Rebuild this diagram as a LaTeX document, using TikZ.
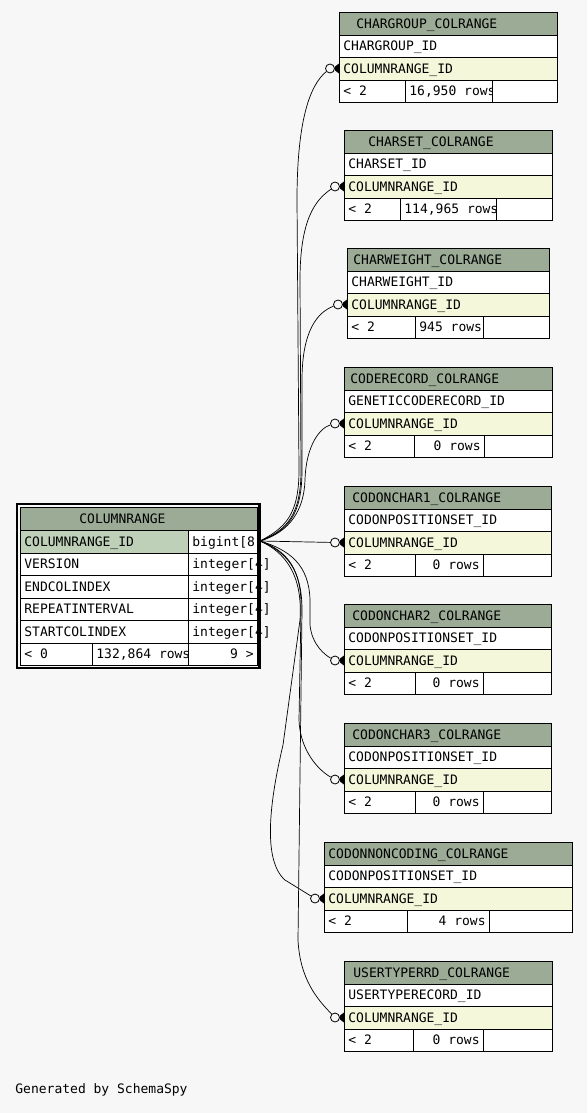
\documentclass[tikz,border=0pt]{standalone}
\usepackage{fontspec}
\setmainfont{DejaVu Sans Mono}
\newcommand{\erfont}{\fontsize{13}{15}\selectfont}
\definecolor{bgc}{HTML}{F7F7F7}
\definecolor{hdc}{HTML}{9BAB96}
\definecolor{pkc}{HTML}{BED1B8}
\definecolor{fkc}{HTML}{F4F7DA}
\begin{document}
\begin{tikzpicture}[x=1pt, y=-1pt, line width=0.8pt,
  txt/.style={font=\erfont, anchor=west, inner sep=0pt, text height=9.5pt, text depth=0pt},
  odot/.style={circle, draw, fill=bgc, inner sep=0pt, minimum size=9pt},
  rel/.style={line width=0.7pt}]
  \fill[bgc] (0,0) rectangle (587,1113);
  % referencing tables
  \foreach \i/\tn/\xa/\xb/\yt/\sa/\sb/\hx/\ca/\rw/\rx/\ra in {
    1/CHARGROUP\_COLRANGE/339/557/12/405/492/356/CHARGROUP\_ID/{16,950 rows}/409/west,
    2/CHARSET\_COLRANGE/344/552/130/400/496/368/CHARSET\_ID/{114,965 rows}/404/west,
    3/CHARWEIGHT\_COLRANGE/347/549/248/415/483/353/CHARWEIGHT\_ID/945 rows/419/west,
    4/CODERECORD\_COLRANGE/344/552/367/414/484/350/GENETICCODERECORD\_ID/0 rows/481/east,
    5/CODONCHAR1\_COLRANGE/344/551/486/415/483/352/CODONPOSITIONSET\_ID/0 rows/480/east,
    6/CODONCHAR2\_COLRANGE/344/551/604/415/483/352/CODONPOSITIONSET\_ID/0 rows/480/east,
    7/CODONCHAR3\_COLRANGE/344/551/723/415/483/352/CODONPOSITIONSET\_ID/0 rows/480/east,
    8/CODONNONCODING\_COLRANGE/324/572/842/407/489/328/CODONPOSITIONSET\_ID/4 rows/486/east,
    9/USERTYPERRD\_COLRANGE/344/552/961/413/483/353/USERTYPERECORD\_ID/0 rows/480/east} {
    \fill[hdc] (\xa,\yt) rectangle (\xb,\yt+23);
    \fill[white] (\xa,\yt+23) rectangle (\xb,\yt+45);
    \fill[fkc] (\xa,\yt+45) rectangle (\xb,\yt+68);
    \fill[white] (\xa,\yt+68) rectangle (\xb,\yt+90);
    \draw (\xa,\yt) rectangle (\xb,\yt+90);
    \foreach \d in {23,45,68} \draw (\xa,\yt+\d) -- (\xb,\yt+\d);
    \draw (\sa,\yt+68) -- (\sa,\yt+90) (\sb,\yt+68) -- (\sb,\yt+90);
    \node[txt] (t\i-h) at (\hx,\yt+11.5) {\tn};
    \node[txt] (t\i-a) at (\xa+4,\yt+34) {\ca};
    \node[txt] (t\i-b) at (\xa+4,\yt+56.5) {COLUMNRANGE\_ID};
    \node[txt] (t\i-f) at (\xa+4,\yt+79) {< 2};
    \begin{scope}
      \clip (\sa,\yt+68) rectangle (\sb,\yt+90);
      \node[txt, anchor=\ra] (t\i-r) at (\rx,\yt+79) {\rw};
    \end{scope}
    \coordinate (t\i-in) at (\xa,\yt+56.5);
    \node[odot] (o\i) at (\xa-9,\yt+56.5) {};
    \draw[rel] (o\i) -- (t\i-in);
    \fill (\xa-4,\yt+54.5) -- (\xa,\yt+51.5) -- (\xa,\yt+61.5) -- (\xa-4,\yt+58.5) -- cycle;
  }
  % COLUMNRANGE
  \fill[white] (20,507) rectangle (257,665);
  \fill[hdc] (20,507) rectangle (257,530);
  \fill[pkc] (20,530) rectangle (188,553);
  \foreach \y in {530,553,575,598,620,643} \draw (20,\y) -- (257,\y);
  \draw (188,530) -- (188,665) (92,643) -- (92,665);
  \draw (20,507) rectangle (257,665);
  \node[txt] (cr-h) at (79,518.5) {COLUMNRANGE};
  \foreach \j/\cn/\ct/\y in {1/COLUMNRANGE\_ID/{bigint[8}/541.5, 2/VERSION/{integer[4]}/564,
      3/ENDCOLINDEX/{integer[4]}/586.5, 4/REPEATINTERVAL/{integer[4]}/609, 5/STARTCOLINDEX/{integer[4]}/631.5} {
    \node[txt] (cr-c\j) at (24,\y) {\cn};
    \node[txt] (cr-t\j) at (192,\y) {\ct};
  }
  \node[txt] (cr-f1) at (24,654) {< 0};
  \begin{scope}
    \clip (92,643) rectangle (188,665);
    \node[txt] (cr-f2) at (96,654) {132,864 rows};
  \end{scope}
  \node[txt, anchor=east] (cr-f3) at (254,654) {9 >};
  \draw[line width=2.5pt] (17,504) rectangle (259.5,668);
  \coordinate (pk) at (260,541);
  % relationships
  \draw[rel] (pk) .. controls (285,528) and (299,515) .. (299,470) -- (297,200)
    .. controls (297,120) and (310,85) .. (o1);
  \draw[rel] (pk) .. controls (287,530) and (301,515) .. (301,470) -- (300,280)
    .. controls (300,220) and (315,200) .. (o2);
  \draw[rel] (pk) .. controls (288,531) and (302,515) .. (302,470) -- (302,380)
    .. controls (302,330) and (318,312) .. (o3);
  \draw[rel] (pk) .. controls (290,532) and (304,510) .. (305,480)
    .. controls (306,445) and (320,428) .. (o4);
  \draw[rel] (pk) -- (o5);
  \draw[rel] (pk) .. controls (290,550) and (309,565) .. (310,600) -- (310,625)
    .. controls (312,645) and (325,655) .. (o6);
  \draw[rel] (pk) .. controls (288,551) and (302,570) .. (301,610) -- (299,720)
    .. controls (300,750) and (318,770) .. (o7);
  \draw[rel] (pk) .. controls (285,552) and (303,575) .. (300,620) -- (283,745)
    .. controls (270,800) and (262,860) .. (285,880) -- (o8);
  \draw[rel] (pk) .. controls (287,552) and (302,570) .. (302,610) -- (298,940)
    .. controls (300,980) and (318,1000) .. (o9);
  \node[txt] (gen) at (15,1089) {Generated by SchemaSpy};
\end{tikzpicture}
\end{document}
